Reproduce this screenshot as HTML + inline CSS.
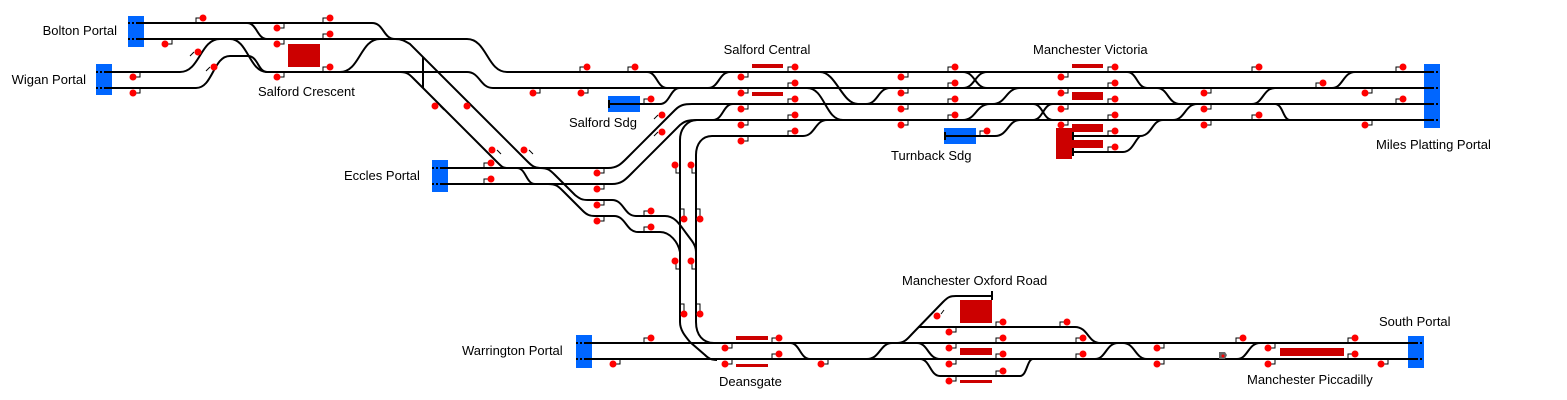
<!DOCTYPE html>
<html><head><meta charset="utf-8"><style>
html,body{margin:0;padding:0;background:#fff;}
svg{display:block;}
text{font-family:"Liberation Sans",Arial,sans-serif;font-size:13px;fill:#000;}
.t{fill:none;stroke:#000;stroke-width:2;}
.r{fill:#cc0000;}
.b{fill:#0066ff;}
.d{fill:none;stroke:#000;stroke-width:2;stroke-dasharray:2,2;}
</style></head><body>
<svg width="1567" height="400" viewBox="0 0 1567 400" xmlns="http://www.w3.org/2000/svg">
<defs>
<g id="sa"><path d="M-7,0V-5H-3" fill="none" stroke="#000" stroke-width="1"/><circle cx="0" cy="-5" r="3.5" fill="#f00"/></g>
<g id="sb"><path d="M3,5H7V0" fill="none" stroke="#000" stroke-width="1"/><circle cx="0" cy="5" r="3.5" fill="#f00"/></g>
</defs>

<!-- portals & sidings blue -->
<rect class="b" x="128" y="16" width="16" height="31"/>
<rect class="b" x="96" y="64" width="16" height="31"/>
<rect class="b" x="432" y="160" width="16" height="32"/>
<rect class="b" x="1424" y="64" width="16" height="64"/>
<rect class="b" x="576" y="335" width="16" height="33"/>
<rect class="b" x="1408" y="336" width="16" height="32"/>
<rect class="b" x="608" y="96" width="32" height="16"/>
<rect class="b" x="944" y="128" width="32" height="16"/>

<!-- red platforms -->
<rect class="r" x="288" y="44" width="32" height="23"/>
<rect class="r" x="752" y="64" width="31" height="4"/>
<rect class="r" x="752" y="92" width="31" height="4"/>
<rect class="r" x="1072" y="64" width="31" height="4"/>
<rect class="r" x="1072" y="92" width="31" height="8"/>
<rect class="r" x="1072" y="124" width="31" height="8"/>
<rect class="r" x="1072" y="140" width="31" height="8"/>
<rect class="r" x="1056" y="128" width="16" height="31"/>
<rect class="r" x="736" y="336" width="32" height="4"/>
<rect class="r" x="736" y="364" width="32" height="3"/>
<rect class="r" x="960" y="300" width="32" height="23"/>
<rect class="r" x="960" y="348" width="32" height="7"/>
<rect class="r" x="960" y="380" width="32" height="3"/>
<rect class="r" x="1280" y="348" width="64" height="8"/>

<!-- tracks -->
<g class="t">
<path d="M136,23H372C384,23 383,39 395,39"/>
<path d="M136,39H467C487,39 487,72 507,72H1432"/>
<path d="M247,23C257,23 257,39 267,39"/>
<path d="M104,72H180C200,72 200,39 220,39"/>
<path d="M230,39C248,39 249,72 267,72"/>
<path d="M104,88H196C213,88 213,56 230,56H248C258,56 258,72 267,72"/>
<path d="M267,72H467C480,72 480,88 493,88H1432"/>
<path d="M340,72C360,72 360,39 380,39"/>
<path d="M395,39C402,39 405,41 410,44L528,162C532,166 535,168 540,168"/>
<path d="M400,72C408,72 410,75 415,80L498,163C502,167 503,168 508,168"/>
<path d="M423,57V88" stroke-width="2"/>
<path d="M440,168H608C618,168 622,163 628,157L675,110C680,105 684,104 692,104H1432"/>
<path d="M440,184H612C622,184 626,179 632,173L680,125C685,121 688,120 697,120H1432"/>
<path d="M517,168C526,168 526,184 535,184"/>
<path d="M540,168C548,168 550,170 555,175L575,195C580,199 582,200 588,200H612C624,200 624,216 636,216H665C675,216 680,225 686,233L692,241C695,245 696,248 696,252"/>
<path d="M548,184C556,184 558,186 563,191L583,211C587,215 590,216 595,216H614C626,216 626,232 638,232H660C670,232 678,242 680,252"/>
<path d="M697,120C688,120 680,128 680,140V322C680,330 685,336 690,342L705,355C709,359 712,360 717,360"/>
<path d="M712,136C702,136 696,144 696,155V322C696,335 703,343 714,343"/>
<path d="M712,136H803C815,136 815,120 827,120"/>
<path d="M609,104H660C670,104 670,88 680,88"/>
<path d="M647,72C657,72 657,88 667,88"/>
<path d="M708,88C719,88 719,72 730,72"/>
<path d="M713,120C723,120 723,104 733,104"/>
<path d="M820,72C836,72 842,104 858,104H866C878,104 878,88 890,88"/>
<path d="M807,88C825,88 825,120 843,120"/>
<path d="M963,72C975,72 975,88 987,88"/>
<path d="M963,88C975,88 975,72 987,72"/>
<path d="M963,120C976,120 976,104 990,104"/>
<path d="M993,104C1006,104 1006,88 1020,88"/>
<path d="M1033,104C1043,104 1043,120 1053,120"/>
<path d="M1033,120C1043,120 1043,104 1053,104"/>
<path d="M945,136H995C1008,136 1008,120 1020,120"/>
<path d="M1127,72C1137,72 1137,88 1147,88"/>
<path d="M1157,88C1168,88 1168,104 1180,104"/>
<path d="M1173,120C1185,120 1185,104 1197,104"/>
<path d="M1072,136H1140C1152,136 1152,120 1163,120"/>
<path d="M1072,152H1123C1132,152 1135,140 1140,136"/>
<path d="M1252,104C1263,104 1263,88 1275,88"/>
<path d="M1275,104C1283,104 1283,120 1290,120"/>
<path d="M1332,88C1343,88 1343,72 1355,72"/>
<path d="M584,343H1416"/>
<path d="M584,359H1416"/>
<path d="M790,343C800,343 800,359 810,359"/>
<path d="M867,359C880,359 880,343 892,343"/>
<path d="M897,343C905,343 908,338 912,334L943,302C948,297 950,296 956,296H992"/>
<path d="M918,327H1075C1088,327 1088,343 1100,343"/>
<path d="M917,343C928,343 928,359 940,359"/>
<path d="M920,359C930,359 930,376 940,376H1020C1027,376 1027,359 1033,359"/>
<path d="M1095,359C1106,359 1106,343 1118,343"/>
<path d="M1123,343C1135,343 1135,359 1147,359"/>
<path d="M1237,359C1248,359 1248,343 1260,343"/>
<path d="M992,291V300M609,100V108M945,132V140M1073,132V140M1073,148V156"/>
</g>

<!-- portal dashes -->
<g class="d">
<path d="M128,23H144M128,39H144M96,72H112M96,88H112M432,168H448M432,184H448"/>
<path d="M1424,72H1440M1424,88H1440M1424,104H1440M1424,120H1440"/>
<path d="M576,343H592M576,359H592M1408,343H1424M1408,359H1424"/>
</g>

<!-- signals above -->
<use href="#sa" x="203" y="23"/><use href="#sa" x="330" y="23"/>
<use href="#sa" x="330" y="39"/>
<use href="#sa" x="330" y="72"/><use href="#sa" x="587" y="72"/><use href="#sa" x="635" y="72"/><use href="#sa" x="795" y="72"/><use href="#sa" x="955" y="72"/><use href="#sa" x="1115" y="72"/><use href="#sa" x="1259" y="72"/><use href="#sa" x="1403" y="72"/>
<use href="#sa" x="795" y="88"/><use href="#sa" x="955" y="88"/><use href="#sa" x="1115" y="88"/><use href="#sa" x="1323" y="88"/>
<use href="#sa" x="651" y="104"/><use href="#sa" x="795" y="104"/><use href="#sa" x="955" y="104"/><use href="#sa" x="1115" y="104"/><use href="#sa" x="1403" y="104"/>
<use href="#sa" x="795" y="120"/><use href="#sa" x="955" y="120"/><use href="#sa" x="1115" y="120"/><use href="#sa" x="1259" y="120"/>
<use href="#sa" x="795" y="136"/><use href="#sa" x="987" y="136"/><use href="#sa" x="1115" y="136"/>
<use href="#sa" x="1115" y="152"/>
<use href="#sa" x="491" y="168"/><use href="#sa" x="491" y="184"/>
<use href="#sa" x="651" y="216"/><use href="#sa" x="651" y="232"/>
<use href="#sa" x="651" y="343"/><use href="#sa" x="779" y="343"/><use href="#sa" x="1003" y="343"/><use href="#sa" x="1083" y="343"/><use href="#sa" x="1243" y="343"/><use href="#sa" x="1355" y="343"/>
<use href="#sa" x="779" y="359"/><use href="#sa" x="1003" y="359"/><use href="#sa" x="1083" y="359"/><use href="#sa" x="1355" y="359"/>
<use href="#sa" x="1003" y="327"/><use href="#sa" x="1067" y="327"/>
<use href="#sa" x="1003" y="376"/>

<!-- signals below -->
<use href="#sb" x="277" y="23"/>
<use href="#sb" x="165" y="39"/><use href="#sb" x="277" y="39"/>
<use href="#sb" x="133" y="72"/><use href="#sb" x="277" y="72"/><use href="#sb" x="741" y="72"/><use href="#sb" x="901" y="72"/><use href="#sb" x="1061" y="72"/>
<use href="#sb" x="133" y="88"/><use href="#sb" x="533" y="88"/><use href="#sb" x="581" y="88"/><use href="#sb" x="741" y="88"/><use href="#sb" x="901" y="88"/><use href="#sb" x="1061" y="88"/><use href="#sb" x="1204" y="88"/><use href="#sb" x="1365" y="88"/>
<use href="#sb" x="741" y="104"/><use href="#sb" x="901" y="104"/><use href="#sb" x="1061" y="104"/><use href="#sb" x="1204" y="104"/>
<use href="#sb" x="741" y="120"/><use href="#sb" x="901" y="120"/><use href="#sb" x="1061" y="120"/><use href="#sb" x="1204" y="120"/><use href="#sb" x="1365" y="120"/>
<use href="#sb" x="741" y="136"/>
<use href="#sb" x="597" y="168"/><use href="#sb" x="597" y="184"/><use href="#sb" x="597" y="200"/><use href="#sb" x="597" y="216"/>
<use href="#sb" x="725" y="343"/><use href="#sb" x="949" y="343"/><use href="#sb" x="1157" y="343"/><use href="#sb" x="1268" y="343"/>
<use href="#sb" x="613" y="359"/><use href="#sb" x="725" y="359"/><use href="#sb" x="821" y="359"/><use href="#sb" x="949" y="359"/><use href="#sb" x="1157" y="359"/><use href="#sb" x="1268" y="359"/><use href="#sb" x="1381" y="359"/>
<use href="#sb" x="949" y="327"/><use href="#sb" x="949" y="376"/>

<!-- vertical-line signals -->
<g fill="none" stroke="#000" stroke-width="1">
<path d="M676,168V173H680M692,168V173H696M676,264V269H680M692,264V269H696"/>
<path d="M680,209H684V216M696,209H700V216M680,304H684V311M696,304H700V311"/>
<path d="M194,52l-4,4M210,67l-4,4M440,106l4,4M472,106l4,4M497,150l4,4M529,150l4,4M658,115l-4,4M658,132l-4,4M941,314l3,-4"/>
</g>
<g fill="#f00">
<circle cx="675" cy="165" r="3.5"/><circle cx="691" cy="165" r="3.5"/>
<circle cx="675" cy="261" r="3.5"/><circle cx="691" cy="261" r="3.5"/>
<circle cx="684" cy="219" r="3.5"/><circle cx="700" cy="219" r="3.5"/>
<circle cx="684" cy="314" r="3.5"/><circle cx="700" cy="314" r="3.5"/>
<circle cx="198" cy="52" r="3.5"/><circle cx="214" cy="67" r="3.5"/>
<circle cx="435" cy="106" r="3.5"/><circle cx="467" cy="106" r="3.5"/>
<circle cx="492" cy="150" r="3.5"/><circle cx="524" cy="150" r="3.5"/>
<circle cx="662" cy="115" r="3.5"/><circle cx="662" cy="132" r="3.5"/>
<circle cx="937" cy="316" r="3.5"/>
</g>
<path d="M1219,352h6l2,3l-2,4h-6z" fill="#666"/><circle cx="1223" cy="356" r="1.5" fill="#f00"/>

<!-- labels -->
<text x="117" y="35" text-anchor="end">Bolton Portal</text>
<text x="86" y="84" text-anchor="end">Wigan Portal</text>
<text x="258" y="96">Salford Crescent</text>
<text x="767" y="54" text-anchor="middle">Salford Central</text>
<text x="1033" y="54">Manchester Victoria</text>
<text x="569" y="127">Salford Sdg</text>
<text x="891" y="160">Turnback Sdg</text>
<text x="1376" y="149">Miles Platting Portal</text>
<text x="344" y="180">Eccles Portal</text>
<text x="462" y="355">Warrington Portal</text>
<text x="719" y="386">Deansgate</text>
<text x="902" y="285">Manchester Oxford Road</text>
<text x="1379" y="326">South Portal</text>
<text x="1247" y="384">Manchester Piccadilly</text>
</svg>
</body></html>
